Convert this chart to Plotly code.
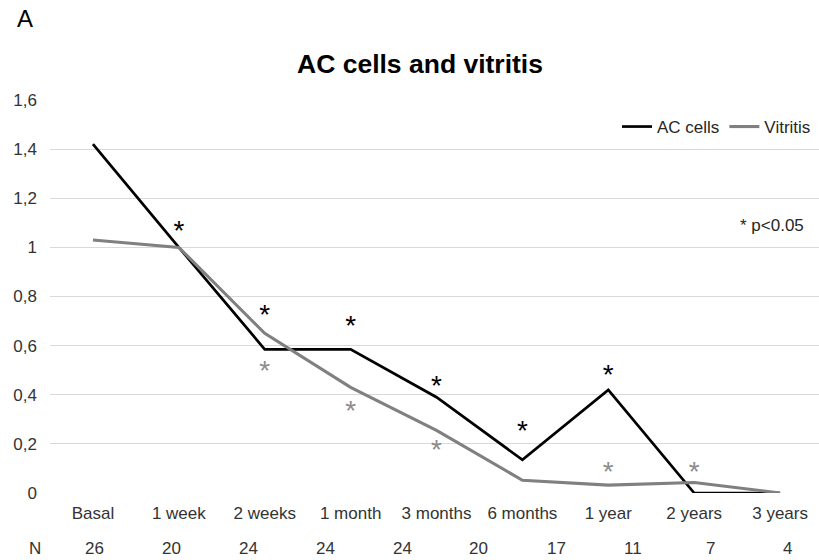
import plotly.graph_objects as go

# Follow-up time points
timepoints = ["Basal", "1 week", "2 weeks", "1 month", "3 months",
              "6 months", "1 year", "2 years", "3 years"]

# Mean scores per time point
ac_cells = [1.42, 1.00, 0.585, 0.585, 0.39, 0.135, 0.42, 0.0, 0.0]
vitritis = [1.03, 1.00, 0.65, 0.43, 0.255, 0.052, 0.032, 0.043, 0.0]

# Significance marks (p<0.05): time point and height of the "*"
ac_sig_points = ["1 week", "2 weeks", "1 month", "3 months", "6 months", "1 year"]
ac_sig_heights = [1.083, 0.741, 0.70, 0.452, 0.269, 0.497]
vit_sig_points = ["2 weeks", "1 month", "3 months", "6 months", "1 year", "2 years"]
vit_sig_heights = [0.513, 0.350, 0.195, 0.02, 0.102, 0.102]

# Number of eyes at each visit
n_label = "N"
n_values = [26, 20, 24, 24, 24, 20, 17, 11, 7, 4]

FONT = "Liberation Sans, Arial, sans-serif"
W, H = 819, 560
L, R, T, B = 50, 0, 100, 67
plot_w = W - L - R
plot_h = H - T - B
px_per_unit = plot_h / 1.6

# "*" glyph sits above the text anchor; shift anchor down so the glyph lands on its height
STAR_SIZE = 28
star_offset = 0.23 * STAR_SIZE / px_per_unit

fig = go.Figure()

fig.add_trace(go.Scatter(
    x=timepoints, y=ac_cells, mode="lines", name="AC cells",
    line=dict(color="#000000", width=2.7), cliponaxis=False,
))
fig.add_trace(go.Scatter(
    x=timepoints, y=vitritis, mode="lines", name="Vitritis",
    line=dict(color="#808080", width=3.1), cliponaxis=False,
))

fig.add_trace(go.Scatter(
    x=ac_sig_points, y=[h - star_offset for h in ac_sig_heights],
    mode="text", text=["*"] * len(ac_sig_points), textposition="middle center",
    textfont=dict(family=FONT, size=STAR_SIZE, color="#000000"),
    showlegend=False, hoverinfo="skip", cliponaxis=False,
))
fig.add_trace(go.Scatter(
    x=vit_sig_points, y=[h - star_offset for h in vit_sig_heights],
    mode="text", text=["*"] * len(vit_sig_points), textposition="middle center",
    textfont=dict(family=FONT, size=STAR_SIZE, color="#8c8c8c"),
    showlegend=False, hoverinfo="skip", cliponaxis=False,
))

annotations = [
    dict(text="A", xref="paper", yref="paper",
         x=(15 - L) / plot_w, y=(H - B - 18.5) / plot_h,
         xanchor="left", yanchor="middle", showarrow=False,
         font=dict(family=FONT, size=24, color="#000000")),
    dict(text="* p<0.05", xref="paper", yref="paper",
         x=(806 - L) / plot_w, y=(H - B - 225) / plot_h,
         xanchor="right", yanchor="middle", showarrow=False,
         font=dict(family=FONT, size=17, color="#262626")),
    dict(text=n_label, xref="paper", yref="paper",
         x=(35 - L) / plot_w, y=(H - B - 548) / plot_h,
         xanchor="center", yanchor="middle", showarrow=False,
         font=dict(family=FONT, size=17, color="#333333")),
]
for i, n in enumerate(n_values):
    annotations.append(dict(
        text=str(n), xref="paper", yref="paper",
        x=(94 + 77 * i - L) / plot_w, y=(H - B - 548) / plot_h,
        xanchor="center", yanchor="middle", showarrow=False,
        font=dict(family=FONT, size=17, color="#333333")))

fig.update_layout(
    width=W, height=H,
    margin=dict(l=L, r=R, t=T, b=B, pad=0),
    paper_bgcolor="white", plot_bgcolor="white",
    separators=",.",
    font=dict(family=FONT, size=17, color="#333333"),
    title=dict(text="<b>AC cells and vitritis</b>", x=420 / W, xref="container",
               xanchor="center", y=1 - 64 / H, yref="container", yanchor="middle",
               font=dict(family=FONT, size=26.5, color="#000000")),
    showlegend=True,
    legend=dict(orientation="h", x=(617 - L) / plot_w, y=(H - B - 127) / plot_h,
                xanchor="left", yanchor="middle", bgcolor="rgba(0,0,0,0)",
                font=dict(family=FONT, size=17, color="#262626"),
                itemclick=False, itemdoubleclick=False),
    annotations=annotations,
    xaxis=dict(type="category", range=[-0.5, 8.453], showgrid=False,
               showline=False, zeroline=False, ticks="",
               tickfont=dict(family=FONT, size=17, color="#333333"),
               ticklabelstandoff=8, fixedrange=True),
    yaxis=dict(range=[0, 1.6], dtick=0.2, tick0=0, showgrid=True,
               gridcolor="#d9d9d9", gridwidth=1.3, zeroline=False,
               showline=False, ticks="",
               tickfont=dict(family=FONT, size=17, color="#333333"),
               ticklabelstandoff=12, fixedrange=True),
)

fig.write_html("out.html")
